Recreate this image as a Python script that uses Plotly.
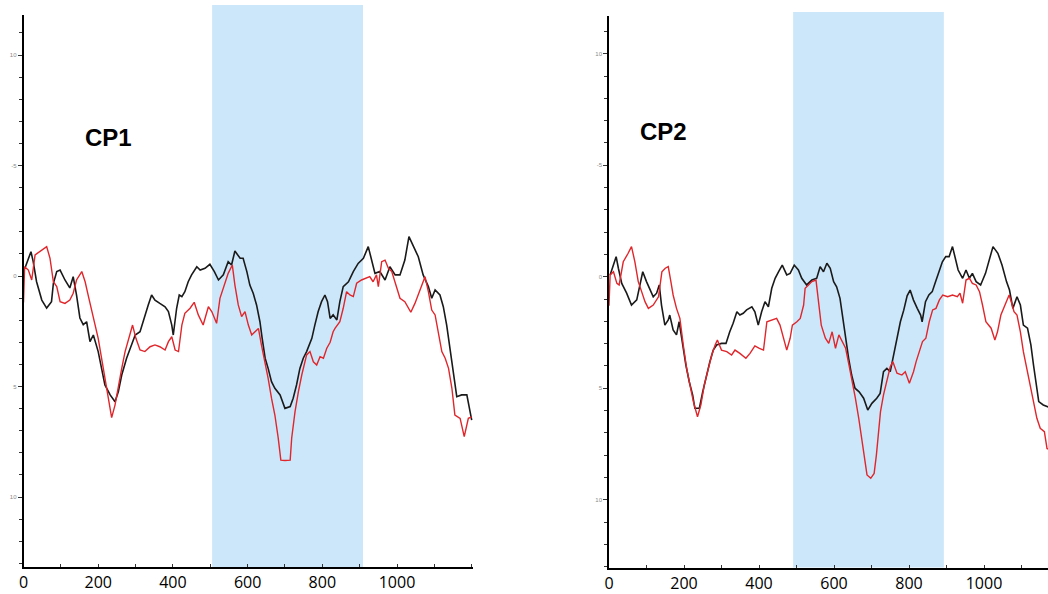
import plotly.graph_objects as go

# ---------------- data (time in ms, amplitude in µV; negative plotted up) ----------------
cp1_black_t = [4, 20, 26, 35, 49, 62, 75, 80, 89, 98, 111, 124, 133, 142, 151, 160, 169, 178, 187, 200,
               209, 218, 232, 245, 254, 263, 276, 290, 299, 312, 325, 334, 343, 352, 365, 379, 388, 397, 401, 410,
               417, 424, 432, 441, 450, 464, 473, 486, 499, 511, 522, 535, 548, 557, 566, 580, 588, 598, 606, 615,
               624, 633, 639, 647, 655, 664, 673, 687, 700, 714, 722, 731, 740, 749, 758, 772, 780, 789, 798, 807,
               814, 821, 829, 839, 847, 856, 870, 883, 896, 910, 923, 932, 941, 954, 968, 981, 995, 1008, 1021, 1032,
               1044, 1057, 1070, 1084, 1093, 1102, 1115, 1124, 1133, 1142, 1151, 1160, 1173, 1187, 1200]
cp1_black_v = [-0.36, -1.1, -0.65, 0.26, 1.09, 1.45, 1.16, 0.33, -0.2, -0.27, 0.18, 0.54, 0.03, 0.86, 1.9, 2.2, 2.07, 2.97, 2.67, 3.42,
               4.18, 4.93, 5.38, 5.69, 5.23, 4.48, 3.72, 3.12, 2.67, 2.52, 1.76, 1.31, 0.86, 1.09, 1.24, 1.39, 1.61, 2.22, 2.67, 1.46,
               0.86, 0.93, 0.71, 0.26, -0.05, -0.42, -0.27, -0.35, -0.53, -0.2, 0.18, -0.05, -0.65, -0.5, -1.13, -0.8, -0.8, -0.2, 0.41, 0.78,
               1.31, 2.07, 2.82, 3.72, 4.18, 4.78, 5.08, 5.38, 5.99, 5.91, 5.53, 4.93, 4.18, 3.72, 3.42, 2.82, 2.22, 1.61, 1.16, 0.86,
               1.16, 1.92, 1.76, 1.99, 1.16, 0.48, 0.26, -0.2, -0.57, -0.8, -1.33, -0.65, -0.12, -0.2, 0.18, -0.42, -0.05, -0.05, -0.72, -1.78,
               -1.33, -0.87, -0.05, 0.48, 1.01, 0.63, 0.86, 1.39, 2.22, 3.27, 4.48, 5.46, 5.38, 5.38, 6.52]

cp1_red_t = [0, 3, 13, 22, 31, 44, 62, 71, 80, 89, 98, 111, 124, 133, 142, 156, 165, 174, 183, 191,
             200, 209, 218, 227, 236, 245, 254, 263, 272, 281, 292, 301, 312, 325, 339, 352, 365, 379, 388, 397,
             406, 415, 424, 432, 446, 457, 468, 481, 495, 504, 517, 526, 535, 548, 559, 566, 575, 584, 593, 602,
             611, 620, 629, 637, 647, 655, 664, 673, 682, 689, 700, 714, 718, 727, 736, 745, 758, 767, 776, 785,
             794, 803, 812, 821, 829, 834, 847, 856, 865, 874, 883, 892, 905, 918, 927, 936, 945, 950, 959, 968,
             977, 986, 995, 1008, 1021, 1037, 1048, 1062, 1075, 1084, 1093, 1102, 1111, 1120, 1129, 1138, 1147, 1155, 1169, 1180,
             1191, 1200]
cp1_red_v = [1.2, -0.42, -0.27, 0.18, -0.95, -1.1, -1.33, -0.8, 0.26, 0.48, 1.16, 1.24, 1.09, 0.78, 0.18, -0.2, 0.26, 0.93, 1.61, 2.07,
             2.82, 3.72, 4.63, 5.53, 6.41, 5.84, 4.93, 4.18, 3.42, 2.82, 2.22, 2.82, 3.35, 3.42, 3.2, 3.12, 3.2, 3.35, 2.97, 2.75,
             3.35, 3.42, 2.22, 1.69, 1.46, 1.19, 1.76, 2.22, 1.39, 1.61, 2.14, 1.01, 0.56, -0.12, -0.5, 0.41, 1.31, 1.84, 1.61, 2.22,
             2.67, 2.52, 2.37, 3.12, 3.88, 4.63, 5.53, 6.29, 7.34, 8.33, 8.35, 8.33, 7.34, 6.14, 5.23, 4.48, 3.57, 3.42, 3.88, 4.03,
             3.65, 3.72, 3.27, 3.0, 2.52, 2.37, 2.07, 1.46, 0.71, 0.86, 0.93, 0.33, 0.18, 0.1, 0.03, 0.26, -0.05, 0.48, -0.65, -0.72,
             -0.35, -0.2, 0.26, 1.01, 1.16, 1.64, 1.24, 0.63, 0.03, 0.71, 1.54, 1.76, 2.67, 3.42, 3.72, 4.18, 5.08, 6.29, 6.44, 7.27,
             6.44, 6.37]

cp2_black_t = [3, 19, 25, 34, 47, 60, 74, 81, 90, 100, 109, 118, 127, 134, 140, 149, 158, 162, 171, 180,
               187, 196, 205, 214, 223, 229, 241, 250, 259, 269, 278, 287, 300, 312, 322, 331, 341, 349, 358, 367,
               381, 389, 398, 407, 416, 425, 434, 443, 452, 462, 474, 483, 494, 505, 514, 527, 541, 554, 563, 572,
               581, 590, 599, 607, 616, 625, 632, 639, 647, 656, 667, 679, 690, 701, 714, 723, 732, 741, 750, 759,
               768, 777, 786, 795, 803, 812, 822, 831, 835, 844, 853, 862, 871, 880, 889, 898, 907, 916, 924, 931,
               943, 952, 961, 969, 979, 991, 1004, 1013, 1024, 1037, 1048, 1060, 1068, 1077, 1088, 1097, 1105, 1116, 1125, 1132,
               1140, 1146, 1158, 1169, 1180]
cp2_black_v = [-0.08, -0.9, -0.38, 0.3, 0.74, 1.27, 1.04, 0.45, -0.22, 0.22, 0.6, 0.9, 0.74, 0.37, 1.27, 2.17, 1.94, 1.72, 2.39, 2.61,
               2.02, 3.06, 3.96, 4.71, 5.3, 5.9, 5.9, 5.16, 4.48, 3.81, 3.29, 3.06, 2.99, 2.99, 2.47, 2.09, 1.57, 1.72, 1.64, 1.49,
               1.35, 1.57, 2.17, 1.57, 1.12, 1.35, 0.52, 0.07, -0.22, -0.52, -0.08, -0.15, -0.52, -0.3, 0.07, 0.37, 0.15, 0.07, -0.45, -0.22,
               -0.6, -0.38, 0.22, 0.45, 0.97, 2.02, 2.91, 3.66, 4.41, 5.0, 5.16, 5.45, 5.98, 5.68, 5.45, 5.23, 4.26, 4.11, 4.26, 3.51,
               2.76, 2.02, 1.5, 0.86, 0.6, 1.05, 1.42, 1.72, 2.02, 1.12, 0.82, 0.67, 0.22, -0.22, -0.67, -0.9, -0.9, -1.35, -0.82, -0.3,
               0.07, -0.3, 0.07, -0.15, 0.22, 0.37, -0.15, -0.67, -1.35, -1.05, -0.52, 0.22, 0.6, 1.42, 0.9, 1.27, 2.17, 2.31, 3.06, 3.96,
               4.86, 5.6, 5.75, 5.83, 5.9]

cp2_red_t = [0, 3, 12, 21, 27, 38, 51, 60, 69, 78, 87, 96, 105, 118, 132, 141, 150, 158, 165, 171,
             180, 189, 198, 207, 216, 225, 236, 245, 254, 263, 274, 283, 289, 300, 314, 327, 336, 349, 365, 376,
             389, 401, 412, 421, 434, 447, 456, 465, 474, 483, 489, 501, 510, 519, 523, 532, 541, 552, 559, 566,
             577, 586, 595, 604, 613, 622, 631, 640, 649, 657, 666, 674, 680, 688, 698, 707, 713, 718, 724, 732,
             741, 750, 757, 768, 781, 790, 801, 812, 819, 828, 836, 845, 854, 863, 872, 881, 890, 903, 916, 929,
             936, 943, 952, 961, 969, 979, 988, 996, 1005, 1019, 1029, 1036, 1045, 1056, 1067, 1074, 1080, 1088, 1097, 1105,
             1114, 1123, 1132, 1141, 1150, 1161, 1168, 1180]
cp2_red_v = [1.3, -0.08, -0.22, 0.3, 0.37, -0.67, -1.05, -1.35, -0.67, 0.22, 0.67, 1.12, 1.42, 1.27, 0.9, -0.22, -0.38, -0.45, 0.22, 0.82,
             1.42, 1.87, 3.06, 4.11, 4.86, 5.6, 6.28, 5.75, 4.86, 4.26, 3.51, 3.06, 2.84, 3.29, 3.36, 3.51, 3.29, 3.44, 3.66, 3.44,
             3.1, 3.21, 3.29, 2.02, 1.94, 1.87, 2.17, 2.76, 3.29, 2.76, 2.17, 2.02, 1.87, 1.27, 0.52, 0.37, 0.22, 0.15, 1.12, 2.17,
             2.76, 2.99, 2.47, 3.21, 2.61, 2.91, 3.21, 3.96, 4.71, 5.45, 6.35, 7.25, 8.14, 8.89, 9.04, 8.82, 8.0, 6.95, 6.05, 5.3,
             4.63, 4.04, 3.81, 4.33, 4.41, 4.26, 4.78, 4.26, 3.81, 3.36, 2.91, 2.76, 2.02, 1.49, 1.42, 1.04, 0.82, 0.9, 0.82, 0.9,
             0.74, 1.19, 0.15, 0.07, 0.3, 0.37, 0.67, 1.27, 2.02, 2.31, 2.84, 2.47, 1.72, 1.27, 0.82, 1.19, 1.57, 1.72, 2.47, 3.36,
             4.11, 4.71, 5.45, 6.35, 6.8, 6.95, 7.7, 7.8]

panel_titles = ["CP1", "CP2"]
window1 = [505, 909]
window2 = [491, 893]
y_tickvals = [-10, -5, 0, 5, 10]
y_ticktext = ["10", "-5", "0", "5", "10"]
x_tickvals = list(range(0, 1201, 100))
x_ticktext = [str(v) if v % 200 == 0 and v <= 1000 else "" for v in x_tickvals]

# ---------------- figure ----------------
W, H = 1048, 594
BLACK = "#1a1a1a"
RED = "#e0262b"
SHADE = "#cde7fa"

fig = go.Figure()
fig.add_trace(go.Scatter(x=cp1_black_t, y=cp1_black_v, mode="lines", line=dict(color=BLACK, width=1.6),
                         xaxis="x", yaxis="y", showlegend=False))
fig.add_trace(go.Scatter(x=cp1_red_t, y=cp1_red_v, mode="lines", line=dict(color=RED, width=1.4),
                         xaxis="x", yaxis="y", showlegend=False))
fig.add_trace(go.Scatter(x=cp2_black_t, y=cp2_black_v, mode="lines", line=dict(color=BLACK, width=1.6),
                         xaxis="x2", yaxis="y2", showlegend=False))
fig.add_trace(go.Scatter(x=cp2_red_t, y=cp2_red_v, mode="lines", line=dict(color=RED, width=1.4),
                         xaxis="x2", yaxis="y2", showlegend=False))

# pixel geometry
p1_x0, p1_x1 = 23.5, 473.0
p1_xmax = (p1_x1 - p1_x0) / 0.3735
p1_top, p1_bot, p1_zero, p1_unit = 15.0, 567.0, 276.0, 22.1
p2_x0 = 609.0
p2_xmax = (W - p2_x0) / 0.375
p2_top, p2_bot, p2_zero, p2_unit = 16.0, 567.5, 276.7, 22.3

def xaxis_cfg(dom, rng, anchor):
    return dict(domain=dom, range=rng, showline=True, linecolor="black", linewidth=1.6,
                showgrid=False, zeroline=False, tickmode="array", tickvals=x_tickvals, ticktext=x_ticktext,
                ticks="inside", ticklen=3, tickcolor="#333", tickwidth=1,
                tickfont=dict(family="Open Sans, Arial", size=16, color="black"), automargin=False,
                anchor=anchor, fixedrange=True)

def yaxis_cfg(dom, rng, anchor):
    return dict(domain=dom, range=rng, showline=True, linecolor="black", linewidth=1.6,
                showgrid=False, zeroline=False, tickmode="array", tickvals=y_tickvals, ticktext=y_ticktext,
                ticks="outside", ticklen=4, tickcolor="#333", tickwidth=1,
                minor=dict(tickmode="linear", tick0=0, dtick=1, ticks="outside", ticklen=3,
                           tickcolor="#333", tickwidth=1, showgrid=False),
                tickfont=dict(family="Arial", size=6, color="#8a8a8a"), automargin=False,
                anchor=anchor, fixedrange=True)

fig.update_layout(
    width=W, height=H, margin=dict(l=0, r=0, t=0, b=0),
    plot_bgcolor="white", paper_bgcolor="white",
    xaxis=xaxis_cfg([p1_x0 / W, p1_x1 / W], [0, p1_xmax], "y"),
    yaxis=yaxis_cfg([1 - p1_bot / H, 1 - p1_top / H],
                    [(p1_bot - p1_zero) / p1_unit, (p1_top - p1_zero) / p1_unit], "x"),
    xaxis2=xaxis_cfg([p2_x0 / W, 1.0], [0, p2_xmax], "y2"),
    yaxis2=yaxis_cfg([1 - p2_bot / H, 1 - p2_top / H],
                     [(p2_bot - p2_zero) / p2_unit, (p2_top - p2_zero) / p2_unit], "x2"),
    shapes=[
        dict(type="rect", xref="x", yref="paper", x0=window1[0], x1=window1[1],
             y0=1 - p1_bot / H, y1=1 - 5 / H, fillcolor=SHADE, line=dict(width=0), layer="below"),
        dict(type="rect", xref="x2", yref="paper", x0=window2[0], x1=window2[1],
             y0=1 - p2_bot / H, y1=1 - 12 / H, fillcolor=SHADE, line=dict(width=0), layer="below"),
    ],
    annotations=[
        dict(text="<b>%s</b>" % panel_titles[0], xref="paper", yref="paper", x=108 / W, y=1 - 137 / H,
             xanchor="center", yanchor="middle", showarrow=False,
             font=dict(family="Liberation Sans, Arial", size=24, color="black")),
        dict(text="<b>%s</b>" % panel_titles[1], xref="paper", yref="paper", x=664 / W, y=1 - 131 / H,
             xanchor="center", yanchor="middle", showarrow=False,
             font=dict(family="Liberation Sans, Arial", size=24, color="black")),
    ],
)

fig.write_html("out.html")
